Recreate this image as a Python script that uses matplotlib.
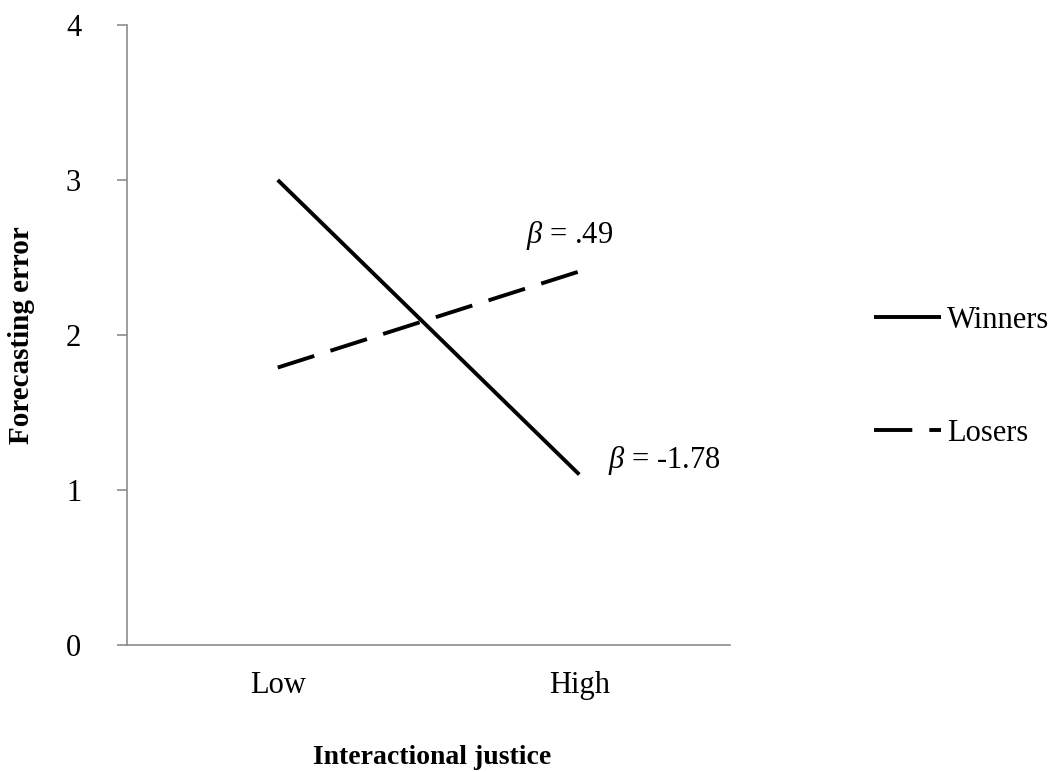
import matplotlib
matplotlib.use("Agg")
import matplotlib.pyplot as plt

categories = ["Low", "High"]
winners = [3.00, 1.10]
losers = [1.79, 2.41]
series_names = ["Winners", "Losers"]
yticks = [0, 1, 2, 3, 4]
beta_losers = "= .49"
beta_winners = "= -1.78"

plt.rcParams['font.family'] = ['Liberation Serif', 'DejaVu Serif']
plt.rcParams['mathtext.fontset'] = 'custom'
plt.rcParams['mathtext.it'] = 'Liberation Serif:italic'
plt.rcParams['mathtext.rm'] = 'Liberation Serif'

FS = 22
W, H = 1052, 772

fig = plt.figure(figsize=(W/100, H/100), dpi=100)
ax = fig.add_axes([127/W, 1-645/H, (730-127)/W, (645-25)/H])

x = list(range(len(categories)))
lw = 2.8
l1, = ax.plot(x, winners, color='black', lw=lw, solid_capstyle='butt', label=series_names[0])
l2, = ax.plot(x, losers, color='black', lw=lw, dashes=(9.85, 4.37), dash_capstyle='butt', label=series_names[1])

ax.set_xlim(-0.5, 1.5)
ax.set_ylim(0, 4)
ax.set_xticks(x)
ax.set_xticklabels(categories, fontsize=FS)
ax.set_yticks(yticks)
ax.set_yticklabels([str(t) for t in yticks], fontsize=FS)
ax.tick_params(axis='x', length=0, pad=19)
ax.tick_params(axis='y', length=7, width=1.2, color='#8c8c8c', direction='out', pad=26)
for s in ['top', 'right']:
    ax.spines[s].set_visible(False)
for s in ['left', 'bottom']:
    ax.spines[s].set_color('#8c8c8c')
    ax.spines[s].set_linewidth(1.2)

ax.text(0.969, 2.645, r'$\beta$ ' + beta_losers, fontsize=FS, ha='center', va='center')
ax.text(1.281, 1.19, r'$\beta$ ' + beta_winners, fontsize=FS, ha='center', va='center', clip_on=False)

fig.text(22/W, 1-335/H, "Forecasting error", fontsize=21, fontweight='bold',
         rotation=90, ha='center', va='center')
fig.text(432/W, 1-757/H, "Interactional justice", fontsize=20, fontweight='bold',
         ha='center', va='center')

fig.legend(handles=[l1, l2], loc='center left', bbox_to_anchor=(862/W, 1-377/H),
           frameon=False, fontsize=FS, handlelength=2.2, handletextpad=0.17,
           labelspacing=2.75, borderaxespad=0)

fig.savefig("out.png", dpi=100)
